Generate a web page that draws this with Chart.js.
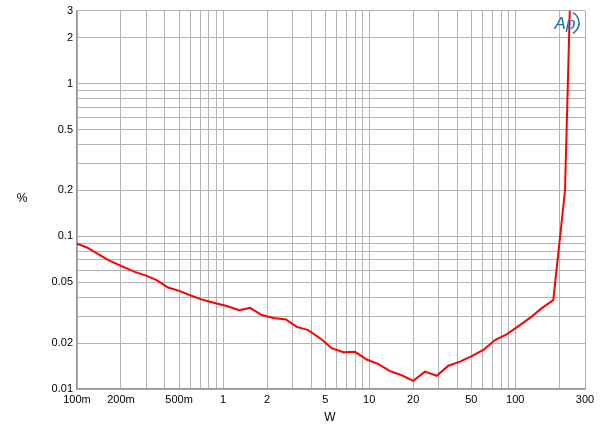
<!DOCTYPE html>
<html>
<head>
<meta charset="utf-8">
<script src="https://cdn.jsdelivr.net/npm/chart.js@4/dist/chart.umd.min.js"></script>
<style>
  html, body { margin: 0; padding: 0; background: #fff; }
  #wrap { width: 600px; height: 435px; position: relative; }
</style>
</head>
<body>
<div id="wrap"><canvas id="thdChart"></canvas></div>
<script>
// output power (W) and THD+N (%)
const watts = [0.1, 0.117, 0.164, 0.202, 0.249, 0.3, 0.351, 0.42, 0.507, 0.594, 0.733, 0.904, 1.06, 1.29, 1.53, 1.84, 2.21, 2.69, 3.19, 3.83, 4.73, 5.54, 6.65, 8.0, 9.62, 11.5, 13.9, 16.7, 20.0, 24.1, 29.0, 34.8, 41.8, 50.3, 60.4, 72.6, 87.3, 105, 126, 151, 182, 219, 236];
const thd = [0.0895, 0.0844, 0.0697, 0.0637, 0.0584, 0.055, 0.0516, 0.0462, 0.0437, 0.0411, 0.0382, 0.0363, 0.0349, 0.0328, 0.034, 0.0305, 0.0292, 0.0285, 0.0255, 0.0243, 0.0211, 0.0185, 0.0174, 0.0175, 0.0156, 0.0146, 0.0131, 0.0123, 0.0113, 0.013, 0.0122, 0.0142, 0.0151, 0.0164, 0.018, 0.0209, 0.0228, 0.0258, 0.0292, 0.0337, 0.0382, 0.2, 3.0];

// grid positions and their labels ('' = gridline only)
const xTickVals = [0.1, 0.2, 0.3, 0.4, 0.5, 0.6, 0.7, 0.8, 0.9, 1, 2, 3, 4, 5, 6, 7, 8, 9, 10, 20, 30, 40, 50, 60, 70, 80, 90, 100, 200, 300];
const xTickText = ['100m', '200m', '', '', '500m', '', '', '', '', '1', '2', '', '', '5', '', '', '', '', '10', '20', '', '', '50', '', '', '', '', '100', '', '300'];
const yTickVals = [0.01, 0.02, 0.03, 0.04, 0.05, 0.06, 0.07, 0.08, 0.09, 0.1, 0.2, 0.3, 0.4, 0.5, 0.6, 0.7, 0.8, 0.9, 1, 2, 3];
const yTickText = ['0.01', '0.02', '', '', '0.05', '', '', '', '', '0.1', '0.2', '', '', '0.5', '', '', '', '', '1', '2', '3'];

const points = watts.map((w, i) => ({ x: w, y: thd[i] }));

Chart.defaults.font.family = '"Liberation Sans", Arial, sans-serif';
Chart.defaults.font.size = 11;
Chart.defaults.color = '#000';

// axis titles and the AP mark
const extras = {
  id: 'extras',
  afterDraw(chart) {
    const ctx = chart.ctx;
    ctx.save();
    ctx.fillStyle = '#000';
    ctx.font = '12px "Liberation Sans", Arial, sans-serif';
    ctx.textAlign = 'center';
    ctx.textBaseline = 'middle';
    ctx.fillText('%', 22, 199);
    ctx.fillText('W', 330, 418);

    // logo
    ctx.fillStyle = '#1a6fb8';
    ctx.strokeStyle = '#1a6fb8';
    ctx.font = 'italic 17px "Liberation Sans", Arial, sans-serif';
    ctx.fillText('Ap', 565, 24);
    ctx.lineWidth = 1.5;
    ctx.beginPath();
    ctx.arc(567, 23, 12, -1.05, 1.05);
    ctx.stroke();
    ctx.restore();
  }
};

const ctx = document.getElementById('thdChart').getContext('2d');
new Chart(ctx, {
  type: 'line',
  data: {
    datasets: [{
      label: 'THD+N',
      data: points,
      borderColor: '#ff0000',
      borderWidth: 2,
      pointRadius: 0,
      tension: 0,
      fill: false,
      clip: 0
    }]
  },
  options: {
    responsive: true,
    maintainAspectRatio: false,
    animation: false,
    layout: { padding: { left: 0, right: 15, top: 10, bottom: 0 } },
    plugins: {
      legend: { display: false },
      tooltip: { enabled: false }
    },
    scales: {
      x: {
        type: 'logarithmic',
        min: 0.1,
        max: 300,
        afterBuildTicks: (scale) => { scale.ticks = xTickVals.map(v => ({ value: v })); },
        afterFit: (scale) => { scale.height = 46; },
        ticks: {
          autoSkip: false,
          maxRotation: 0,
          padding: 4,
          callback: (value, index) => xTickText[index]
        },
        grid: { color: '#b4b4b4', lineWidth: 1, drawTicks: false },
        border: { color: '#999', width: 1.5 }
      },
      y: {
        type: 'logarithmic',
        min: 0.01,
        max: 3,
        afterBuildTicks: (scale) => { scale.ticks = yTickVals.map(v => ({ value: v })); },
        afterFit: (scale) => { scale.width = 77; },
        ticks: {
          autoSkip: false,
          padding: 4,
          callback: (value, index) => yTickText[index]
        },
        grid: { color: '#b4b4b4', lineWidth: 1, drawTicks: false },
        border: { color: '#999', width: 1.5 }
      }
    }
  },
  plugins: [extras]
});
</script>
</body>
</html>
